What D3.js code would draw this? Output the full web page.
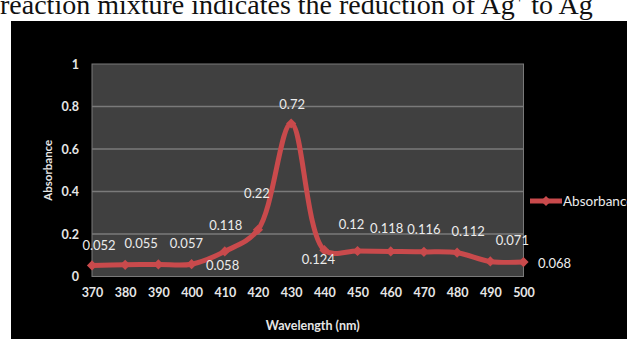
<!DOCTYPE html>
<html>
<head>
<meta charset="utf-8">
<script src="https://cdn.jsdelivr.net/npm/d3@7"></script>
<style>
  html, body { margin: 0; padding: 0; background: #ffffff; }
  svg { display: block; }
</style>
</head>
<body>
<svg id="chart" width="627" height="339"></svg>
<script>
// Absorbance spectrum of the reaction mixture
const wavelengths = [370, 380, 390, 400, 410, 420, 430, 440, 450, 460, 470, 480, 490, 500];
const absorbance = [0.052, 0.055, 0.057, 0.058, 0.118, 0.22, 0.72, 0.124, 0.12, 0.118, 0.116, 0.112, 0.071, 0.068];
const yTicks = [0, 0.2, 0.4, 0.6, 0.8, 1];
const seriesName = "Absorbance";

// Hand-placed data label offsets (pixels from each marker)
const labelShift = [
  [7, -20], [16, -21], [28, -21], [31, 1], [1, -26], [-1, -36], [1, -19],
  [-6, 9], [-6, -27], [-4, -23], [0, -22], [11, -21], [22, -21], [31, 1]
];

const svg = d3.select("#chart");
const W = 627, H = 339;
const plot = { left: 92, right: 523.5, top: 64, bottom: 276.5 };
const red = "#c94a4c";
const font = "Lato, 'Open Sans', sans-serif";

// caption text above the figure
const cap = svg.append("text")
  .attr("x", 0).attr("y", 14)
  .attr("font-family", "'Liberation Serif', 'Times New Roman', serif")
  .attr("font-size", 28)
  .attr("fill", "#111");
cap.append("tspan").text("reaction mixture indicates the reduction of Ag");
cap.append("tspan").attr("dy", -11).attr("font-size", 17).text("+");
cap.append("tspan").attr("dy", 11).text(" to Ag");

// chart background
svg.append("rect").attr("x", 11).attr("y", 21).attr("width", W - 11).attr("height", H - 21).attr("fill", "#000");

const x = d3.scalePoint().domain(wavelengths).range([plot.left, plot.right]);
const y = d3.scaleLinear().domain([0, 1]).range([plot.bottom, plot.top]);

// plot area
svg.append("rect")
  .attr("x", plot.left).attr("y", plot.top)
  .attr("width", plot.right - plot.left).attr("height", plot.bottom - plot.top)
  .attr("fill", "#404040").attr("stroke", "#7a7a7a").attr("stroke-width", 1);

// gridlines
svg.append("g").selectAll("line").data(yTicks.filter(d => d > 0 && d < 1)).join("line")
  .attr("x1", plot.left).attr("x2", plot.right)
  .attr("y1", d => y(d)).attr("y2", d => y(d))
  .attr("stroke", "#7a7a7a").attr("stroke-width", 1.5);

// y axis
const yAxis = svg.append("g").attr("transform", `translate(${plot.left},0)`)
  .call(d3.axisLeft(y).tickValues(yTicks).tickSize(0).tickPadding(13).tickFormat(d3.format("")));
yAxis.select(".domain").remove();
yAxis.selectAll("text").attr("fill", "#e6e6e6").attr("font-family", font)
  .attr("font-size", 12.5).attr("font-weight", "bold");

// x axis
const xAxis = svg.append("g").attr("transform", `translate(0,${plot.bottom})`)
  .call(d3.axisBottom(x).tickSize(0).tickPadding(12));
xAxis.select(".domain").remove();
xAxis.selectAll("text").attr("fill", "#e6e6e6").attr("font-family", font)
  .attr("font-size", 12.5).attr("font-weight", "bold");

// axis titles
svg.append("text")
  .attr("x", (plot.left + plot.right) / 2 + 5).attr("y", 330)
  .attr("text-anchor", "middle").attr("fill", "#e6e6e6")
  .attr("font-family", font).attr("font-size", 12.5).attr("font-weight", "bold")
  .text("Wavelength (nm)");
svg.append("text")
  .attr("transform", `translate(52,${(plot.top + plot.bottom) / 2}) rotate(-90)`)
  .attr("text-anchor", "middle").attr("fill", "#e6e6e6")
  .attr("font-family", font).attr("font-size", 11.5).attr("font-weight", "bold")
  .text("Absorbance");

// smoothed series line
const line = d3.line()
  .x((d, i) => x(wavelengths[i]))
  .y(d => y(d))
  .curve(d3.curveCatmullRom.alpha(0.5));
svg.append("path").datum(absorbance)
  .attr("d", line).attr("fill", "none")
  .attr("stroke", red).attr("stroke-width", 5).attr("stroke-linejoin", "round");

// diamond markers (rotated squares)
const diamond = d3.symbol().type(d3.symbolSquare).size(52);
svg.append("g").selectAll("path").data(absorbance).join("path")
  .attr("transform", (d, i) => `translate(${x(wavelengths[i])},${y(d)}) rotate(45)`)
  .attr("d", diamond).attr("fill", red);

// data labels
svg.append("g").selectAll("text").data(absorbance).join("text")
  .attr("x", (d, i) => x(wavelengths[i]) + labelShift[i][0])
  .attr("y", (d, i) => y(d) + labelShift[i][1])
  .attr("dy", "0.35em")
  .attr("text-anchor", "middle").attr("fill", "#ececec")
  .attr("font-family", font).attr("font-size", 13)
  .text(d => String(d));

// legend
const lg = svg.append("g").attr("transform", "translate(530,201)");
lg.append("line").attr("x1", 0).attr("x2", 32).attr("y1", 0).attr("y2", 0)
  .attr("stroke", red).attr("stroke-width", 5);
lg.append("path").attr("transform", "translate(16,0) rotate(45)").attr("d", diamond).attr("fill", red);
lg.append("text").attr("x", 33).attr("y", 0).attr("dy", "0.35em")
  .attr("fill", "#ececec").attr("font-family", font).attr("font-size", 13.5)
  .text(seriesName);
</script>
</body>
</html>
